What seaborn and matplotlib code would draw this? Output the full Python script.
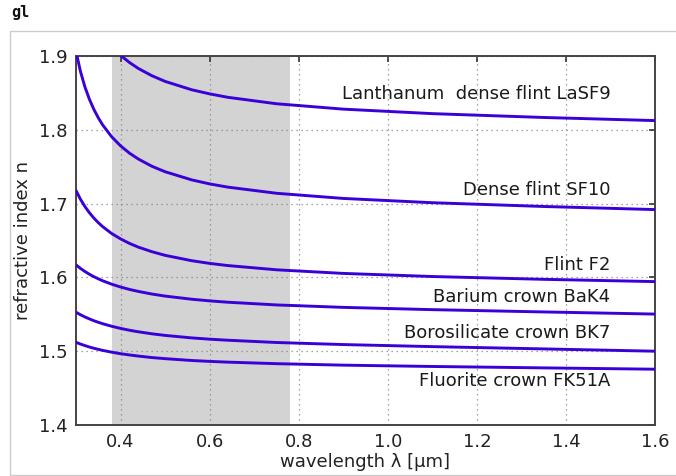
import pandas as pd
import matplotlib.pyplot as plt
import seaborn as sns
from matplotlib.patches import Rectangle

WAVELENGTH = [0.30, 0.31, 0.32, 0.33, 0.34, 0.35, 0.36, 0.38, 0.40, 0.42, 0.44, 0.47,
              0.50, 0.56, 0.60, 0.64, 0.75, 0.90, 1.10, 1.35, 1.60]
WAVELENGTH_LASF9 = [0.38, 0.40, 0.42, 0.44, 0.47, 0.50, 0.56, 0.60, 0.64, 0.75,
                    0.90, 1.10, 1.35, 1.60]

N_LASF9 = [1.9129, 1.9009, 1.8912, 1.8831, 1.8734, 1.8656, 1.8542, 1.8487, 1.8441, 1.8353,
           1.8280, 1.8219, 1.8167, 1.8125]
N_SF10 = [1.9062, 1.8791, 1.8582, 1.8415, 1.8278, 1.8163, 1.8065, 1.7906, 1.7783, 1.7684,
          1.7604, 1.7507, 1.7432, 1.7321, 1.7267, 1.7224, 1.7140, 1.7070, 1.7012, 1.6961, 1.6919]
N_F2 = [1.7177, 1.7059, 1.6960, 1.6877, 1.6805, 1.6742, 1.6687, 1.6595, 1.6522, 1.6461,
        1.6410, 1.6349, 1.6299, 1.6226, 1.6190, 1.6161, 1.6103, 1.6054, 1.6012, 1.5974, 1.5943]
N_BAK4 = [1.6169, 1.6122, 1.6080, 1.6043, 1.6010, 1.5981, 1.5954, 1.5908, 1.5870, 1.5837,
          1.5810, 1.5775, 1.5747, 1.5704, 1.5682, 1.5664, 1.5627, 1.5594, 1.5563, 1.5532, 1.5503]
N_BK7 = [1.5528, 1.5494, 1.5464, 1.5438, 1.5413, 1.5392, 1.5372, 1.5338, 1.5309, 1.5284,
         1.5263, 1.5236, 1.5214, 1.5180, 1.5163, 1.5149, 1.5118, 1.5090, 1.5062, 1.5031, 1.5000]
N_FK51A = [1.5120, 1.5097, 1.5076, 1.5057, 1.5040, 1.5025, 1.5011, 1.4987, 1.4966, 1.4949,
           1.4934, 1.4914, 1.4899, 1.4874, 1.4862, 1.4852, 1.4831, 1.4811, 1.4793, 1.4774, 1.4756]

LABELS = ['Lanthanum  dense flint LaSF9', 'Dense flint SF10', 'Flint F2',
          'Barium crown BaK4', 'Borosilicate crown BK7', 'Fluorite crown FK51A']
LABEL_N = [1.849, 1.719, 1.617, 1.573, 1.524, 1.459]

VISIBLE = (0.38, 0.78)

LINE_COLOR = '#3a00d8'

sns.set_style('white')
plt.rcParams['font.family'] = ['DejaVu Sans']

fig = plt.figure(figsize=(6.76, 4.76), dpi=100)
ax = fig.add_axes([76 / 676, 1 - 425 / 476, (655 - 76) / 676, (425 - 56) / 476])

ax.axvspan(VISIBLE[0], VISIBLE[1], color='#d3d3d3', lw=0, zorder=0.2)

curves = [(WAVELENGTH_LASF9, N_LASF9), (WAVELENGTH, N_SF10), (WAVELENGTH, N_F2),
          (WAVELENGTH, N_BAK4), (WAVELENGTH, N_BK7), (WAVELENGTH, N_FK51A)]
for (wl, n), label, ly in zip(curves, LABELS, LABEL_N):
    sns.lineplot(x=wl, y=n, ax=ax, color=LINE_COLOR, lw=2.1, sort=False,
                 estimator=None, zorder=3)
    ax.text(1.5, ly, label, ha='right', va='center', fontsize=13, color='#1a1a1a')

ax.set_xlim(0.3, 1.6)
ax.set_ylim(1.4, 1.9)
ax.set_xticks([0.4, 0.6, 0.8, 1.0, 1.2, 1.4, 1.6])
ax.set_yticks([1.4, 1.5, 1.6, 1.7, 1.8, 1.9])
ax.set_xticklabels(['0.4', '0.6', '0.8', '1.0', '1.2', '1.4', '1.6'])
ax.set_yticklabels(['1.4', '1.5', '1.6', '1.7', '1.8', '1.9'])

ax.grid(True, linestyle=(0, (1, 3)), color='#888888', lw=0.9)
ax.tick_params(direction='in', length=4, width=1.2, colors='#333333',
               top=True, right=True, labelsize=13, labelcolor='#222222', pad=6)
for s in ax.spines.values():
    s.set_color('#444444')
    s.set_linewidth(1.4)

ax.set_xlabel('wavelength λ [µm]', fontsize=13, color='#222222', labelpad=1)
ax.set_ylabel('refractive index n', fontsize=13, color='#222222', labelpad=5)

# notebook-style frame and title
fig.patches.append(Rectangle((10 / 676, 1 / 476), 1.0, (475 - 30.5) / 476,
                             transform=fig.transFigure, fill=False,
                             edgecolor='#cccccc', lw=1))
fig.text(11 / 676, 1 - 17.5 / 476, 'gl', family='DejaVu Sans Mono', weight='bold',
         fontsize=11, color='#111111', va='baseline')

fig.savefig('out.png', dpi=100)
